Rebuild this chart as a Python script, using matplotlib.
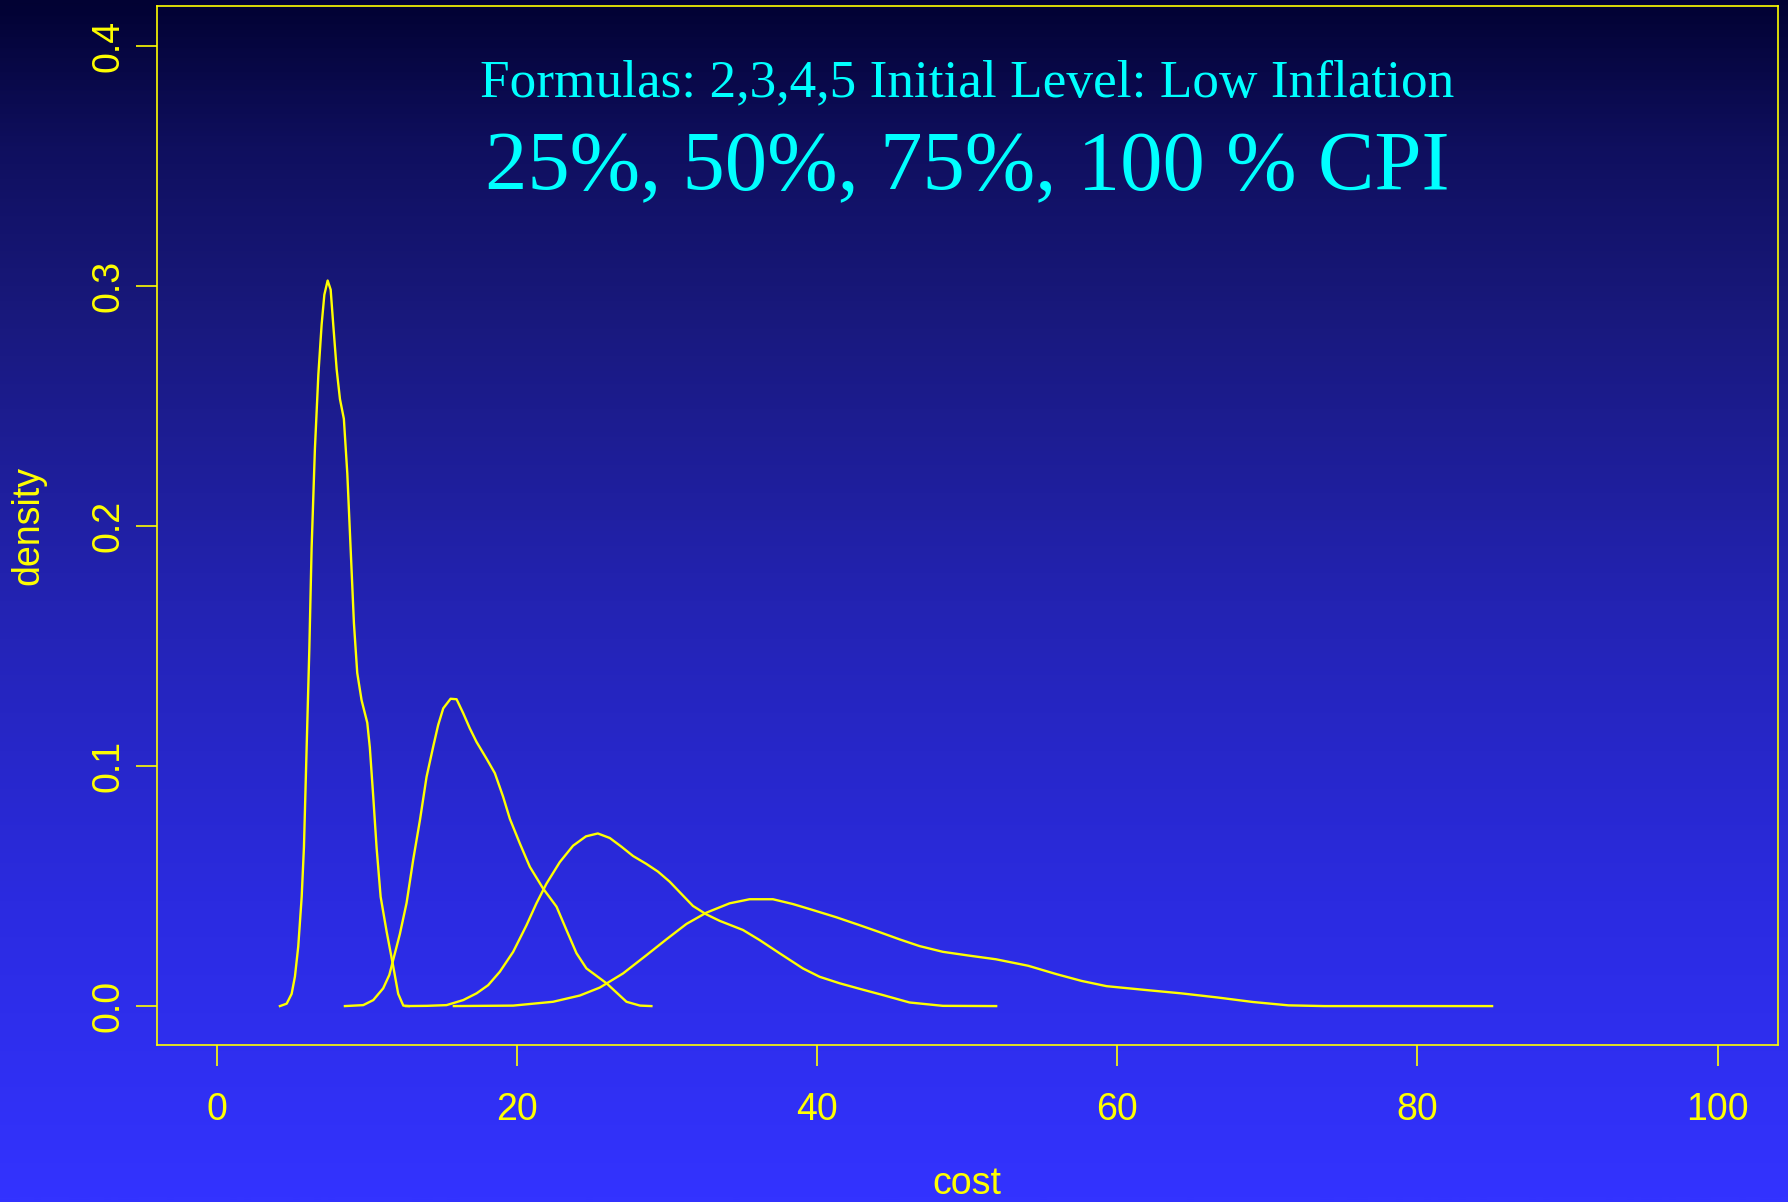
import numpy as np
import matplotlib
matplotlib.use("Agg")
import matplotlib.pyplot as plt
from matplotlib.colors import LinearSegmentedColormap

# density estimates of total cost, one curve per CPI share
cost_25 = [4.21, 4.66, 4.99, 5.21, 5.43, 5.66, 5.81, 5.99, 6.17, 6.32, 6.54, 6.77, 6.99,
           7.17, 7.39, 7.59, 7.76, 7.99, 8.21, 8.47, 8.70, 8.92, 9.14, 9.36, 9.65, 10.03,
           10.20, 10.43, 10.65, 10.92, 11.32, 11.76, 12.09, 12.43, 12.80]
dens_25 = [0.0, 0.001, 0.0051, 0.0123, 0.0248, 0.0455, 0.0662, 0.1077, 0.149, 0.1906, 0.232,
           0.263, 0.284, 0.2963, 0.3022, 0.2984, 0.284, 0.2652, 0.2528, 0.2446, 0.2217, 0.1906,
           0.1595, 0.1388, 0.1274, 0.118, 0.1077, 0.087, 0.066, 0.0455, 0.031, 0.0165, 0.0051,
           0.0002, 0.0]

cost_50 = [8.54, 9.76, 10.43, 11.09, 11.5, 12.2, 12.65, 13.09, 13.54, 13.98, 14.42, 14.75,
           15.09, 15.58, 15.98, 16.42, 16.86, 17.31, 17.98, 18.53, 19.08, 19.53, 20.19, 20.86,
           21.74, 22.64, 23.3, 23.97, 24.63, 25.97, 27.3, 28.2, 28.96]
dens_50 = [0.0, 0.0004, 0.0025, 0.0074, 0.013, 0.030, 0.043, 0.061, 0.0775, 0.0955, 0.108,
           0.117, 0.124, 0.128, 0.1278, 0.122, 0.1157, 0.110, 0.103, 0.097, 0.0872, 0.078,
           0.0678, 0.058, 0.049, 0.0414, 0.0317, 0.022, 0.0157, 0.0095, 0.0018, 0.0002, 0.0]

cost_75 = [12.6, 14.0, 15.31, 16.42, 17.31, 18.08, 18.86, 19.75, 20.64, 21.3, 21.97, 22.86,
           23.74, 24.6, 25.39, 26.19, 26.96, 27.74, 28.63, 29.4, 30.18, 30.96, 31.73, 32.62,
           33.51, 35.06, 36.17, 37.5, 39.05, 40.17, 41.5, 42.83, 44.38, 46.16, 48.38, 51.93]
dens_75 = [0.0, 0.0001, 0.0004, 0.0025, 0.0053, 0.0087, 0.0143, 0.0226, 0.0337, 0.0428, 0.051,
           0.060, 0.0668, 0.0707, 0.0719, 0.070, 0.0664, 0.0625, 0.0592, 0.056, 0.0518, 0.0467,
           0.0417, 0.0382, 0.0355, 0.0317, 0.0275, 0.022, 0.0157, 0.0122, 0.0095, 0.0072,
           0.0046, 0.0015, 0.0001, 0.0]

cost_100 = [15.8, 19.75, 22.41, 24.19, 25.52, 27.07, 28.63, 29.96, 31.29, 32.62, 34.17, 35.5,
            37.06, 38.39, 39.72, 41.28, 42.83, 44.16, 45.49, 46.82, 48.38, 50.15, 51.91, 54.06,
            55.95, 57.61, 59.28, 61.9, 64.27, 66.66, 69.04, 71.41, 73.79, 84.97]
dens_100 = [0.0, 0.0002, 0.0018, 0.0044, 0.0077, 0.0136, 0.0212, 0.0278, 0.0342, 0.0389,
            0.0428, 0.0445, 0.0445, 0.0425, 0.040, 0.037, 0.0337, 0.0308, 0.0278, 0.025,
            0.0226, 0.021, 0.0195, 0.0168, 0.0133, 0.0105, 0.0083, 0.0067, 0.0053, 0.0036,
            0.0017, 0.0003, 0.0, 0.0]

x_ticks = [0, 20, 40, 60, 80, 100]
y_ticks = [0.0, 0.1, 0.2, 0.3, 0.4]
y_tick_labels = ["0.0", "0.1", "0.2", "0.3", "0.4"]

title_1 = "Formulas: 2,3,4,5 Initial Level: Low Inflation"
title_2 = "25%, 50%, 75%, 100 % CPI"

fg = "#FFFF00"
plt.rcParams["font.family"] = ["Liberation Sans", "DejaVu Sans"]

fig = plt.figure(figsize=(17.88, 12.02), dpi=100)

# vertical background gradient, dark navy at the top to bright blue at the bottom
bg = fig.add_axes([0, 0, 1, 1], zorder=0)
grad_cmap = LinearSegmentedColormap.from_list(
    "bg", [(0.0, "#020233"), (0.12, "#0f0f5e"), (0.25, "#18187a"),
           (0.5, "#2323b2"), (0.75, "#2b2be0"), (1.0, "#3333ff")])
bg.imshow(np.linspace(0, 1, 600).reshape(-1, 1), aspect="auto", cmap=grad_cmap,
          extent=[0, 1, 0, 1], origin="upper")
bg.set_axis_off()

ax = fig.add_axes([156.7 / 1788, (1202 - 1044.5) / 1202,
                   (1777.7 - 156.7) / 1788, (1044.5 - 6.1) / 1202], zorder=1)
ax.patch.set_alpha(0)

for xs, ys in [(cost_25, dens_25), (cost_50, dens_50), (cost_75, dens_75), (cost_100, dens_100)]:
    ax.plot(xs, ys, color=fg, lw=1.7)

ax.set_xlim(-4, 104)
ax.set_ylim(-0.016, 0.4165)
ax.set_xticks(x_ticks)
ax.set_yticks(y_ticks)
ax.set_yticklabels(y_tick_labels, rotation=90, va="center")

for s in ax.spines.values():
    s.set_color(fg)
    s.set_linewidth(1.2)
ax.tick_params(colors=fg, labelsize=27, length=15, width=1.2)
ax.tick_params(axis="x", pad=19)
ax.tick_params(axis="y", pad=6.5)

ax.set_xlabel("cost", color=fg, fontsize=27)
ax.set_ylabel("density", color=fg, fontsize=27)
ax.xaxis.set_label_coords(0.5, -0.117)
ax.yaxis.set_label_coords(-0.068, 0.5)

ax.text(50, 0.3787, title_1, color="#00FFFF", fontsize=38.3, ha="center", va="baseline",
        family=["Liberation Serif", "DejaVu Serif"])
ax.text(50, 0.3399, title_2, color="#00FFFF", fontsize=61, ha="center", va="baseline",
        family=["Liberation Serif", "DejaVu Serif"])

fig.savefig("out.png", dpi=100)
